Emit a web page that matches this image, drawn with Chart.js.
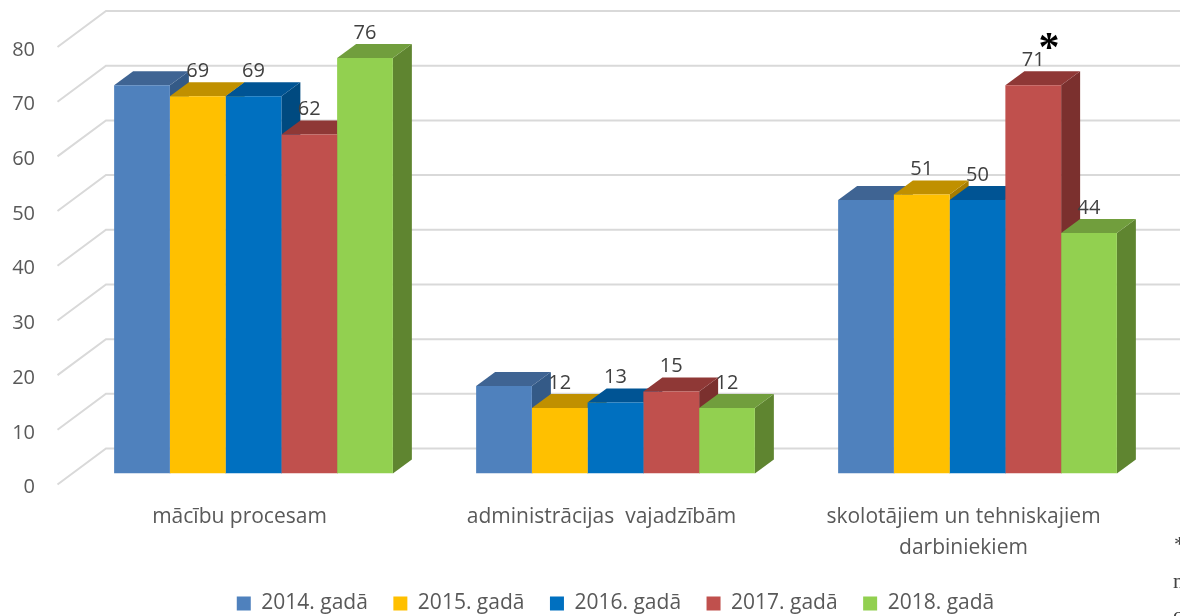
<!DOCTYPE html>
<html>
<head>
<meta charset="utf-8">
<style>
  html, body { margin: 0; padding: 0; background: #fff; }
  #wrap { width: 1180px; height: 616px; }
</style>
<script src="https://cdn.jsdelivr.net/npm/chart.js@4"></script>
</head>
<body>
<div id="wrap"><canvas id="myChart" width="1180" height="616"></canvas></div>
<script>
const categories = [
  'mācību procesam',
  'administrācijas  vajadzībām',
  ['skolotājiem un tehniskajiem', 'darbiniekiem']
];
const seriesNames = ['2014. gadā', '2015. gadā', '2016. gadā', '2017. gadā', '2018. gadā'];

const values2014 = [71, 16, 50];
const values2015 = [69, 12, 51];
const values2016 = [69, 13, 50];
const values2017 = [62, 15, 71];
const values2018 = [76, 12, 44];
const seriesValues = [values2014, values2015, values2016, values2017, values2018];

const frontColors = ['#4F81BD', '#FFC000', '#0070C0', '#C0504D', '#92D050'];
const topColors = ['#3F6493', '#C09000', '#005494', '#8F3836', '#719E3D'];
const sideColors = ['#345A87', '#A67C00', '#004A80', '#7B302E', '#5F8530'];

const FONT = '"Open Sans", sans-serif';
const TEXT = '#595959';
const DEPTH_X = 19, DEPTH_Y = 14; // depth of the bars
const BACK_Y = 25, FLOOR_Y = 11; // back wall and front floor, relative to bar plane

function poly(ctx, pts, color) {
  ctx.fillStyle = color;
  ctx.beginPath();
  pts.forEach((p, i) => i ? ctx.lineTo(p[0], p[1]) : ctx.moveTo(p[0], p[1]));
  ctx.closePath();
  ctx.fill();
}

// walls and the sides of the bars go under the normal (front) bars
const depthPlugin = {
  id: 'depth',
  beforeDatasetsDraw(chart) {
    const ctx = chart.ctx;
    const yScale = chart.scales.y;
    ctx.save();
    ctx.strokeStyle = '#D9D9D9';
    ctx.lineWidth = 2;
    yScale.ticks.forEach(t => {
      const py = yScale.getPixelForValue(t.value);
      ctx.beginPath();
      ctx.moveTo(57.5, py + FLOOR_Y);
      ctx.lineTo(106, py - BACK_Y);
      ctx.lineTo(chart.width, py - BACK_Y);
      ctx.stroke();
    });
    seriesValues.forEach((vals, i) => {
      chart.getDatasetMeta(i).data.forEach(bar => {
        const l = bar.x - bar.width / 2, r = bar.x + bar.width / 2;
        const t = bar.y, b = bar.base;
        poly(ctx, [[r, t], [r + DEPTH_X, t - DEPTH_Y], [r + DEPTH_X, b - DEPTH_Y], [r, b]], sideColors[i]);
        poly(ctx, [[l, t], [l + DEPTH_X, t - DEPTH_Y], [r + DEPTH_X, t - DEPTH_Y], [r, t]], topColors[i]);
      });
    });
    ctx.restore();
  },
  afterDatasetsDraw(chart) {
    const ctx = chart.ctx;
    ctx.save();
    ctx.font = '20px ' + FONT;
    ctx.fillStyle = '#404040';
    ctx.textAlign = 'center';
    ctx.textBaseline = 'middle';
    // 2014 has no value labels in the picture
    for (let i = 1; i < seriesValues.length; i++) {
      chart.getDatasetMeta(i).data.forEach((bar, j) => {
        ctx.fillText(seriesValues[i][j], bar.x, bar.y - 25);
      });
    }
    ctx.fillStyle = '#000';
    ctx.font = 'bold 42px "Liberation Serif", serif';
    ctx.fillText('*', 1049, 50);
    // text cut off by the right edge of the picture
    ctx.fillStyle = '#444';
    ctx.textAlign = 'left';
    ctx.font = '22px "Liberation Serif", serif';
    ctx.fillText('*', 1174, 545);
    ctx.fillText('n', 1173, 582);
    ctx.fillText('c', 1173, 616);
    ctx.restore();
  }
};

new Chart(document.getElementById('myChart'), {
  type: 'bar',
  data: {
    labels: categories,
    datasets: seriesNames.map((name, i) => ({
      label: name,
      data: seriesValues[i],
      backgroundColor: frontColors[i],
      borderWidth: 0,
      categoryPercentage: 0.77,
      barPercentage: 1
    }))
  },
  options: {
    responsive: false,
    animation: false,
    layout: { padding: { left: 0, right: 21.5, top: 36, bottom: -8 } },
    plugins: {
      legend: {
        position: 'bottom',
        fullSize: false,
        labels: {
          boxWidth: 14,
          boxHeight: 14,
          padding: 25.5,
          color: TEXT,
          font: { family: FONT, size: 21 }
        }
      },
      tooltip: { enabled: false }
    },
    scales: {
      x: {
        grid: { display: false },
        border: { display: false },
        ticks: {
          color: TEXT,
          font: { family: FONT, size: 21, lineHeight: 1.43 },
          padding: 21,
          labelOffset: -14,
          maxRotation: 0
        },
        afterFit(scale) { scale.height = 94; }
      },
      y: {
        min: 0,
        max: 80,
        grid: { display: false, drawTicks: false },
        border: { display: false },
        ticks: {
          stepSize: 10,
          color: TEXT,
          font: { family: FONT, size: 20 },
          padding: 37.5,
          labelOffset: FLOOR_Y + 3
        },
        afterFit(scale) {
          scale.width = 72.5;
          // the big tick padding would otherwise push the plot area down
          scale.paddingTop = 0;
          scale.paddingBottom = 0;
        }
      }
    }
  },
  plugins: [depthPlugin]
});
</script>
</body>
</html>
